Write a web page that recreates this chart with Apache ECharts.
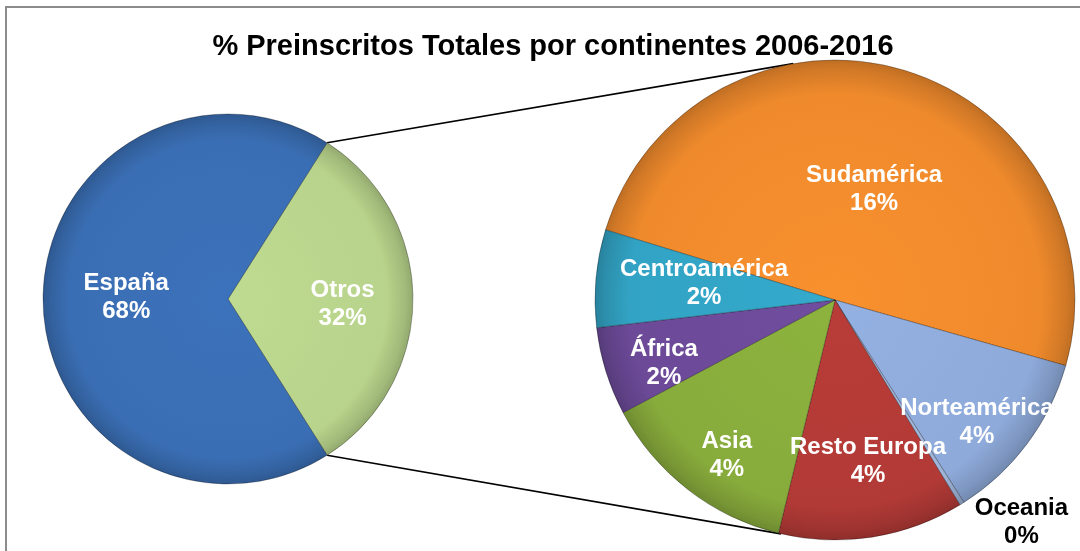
<!DOCTYPE html>
<html>
<head>
<meta charset="utf-8">
<script src="https://cdn.jsdelivr.net/npm/echarts@6/dist/echarts.min.js"></script>
<style>
  html, body { margin: 0; padding: 0; background: #fff; }
  #chart { width: 1080px; height: 551px; }
</style>
</head>
<body>
<div id="chart"></div>
<script>
// Data (percent of all pre-registrations)
const mainNames = ['Otros', 'España'];
const mainValues = [32, 68];
const mainColors = ['#B8D38B', '#3A6EB4'];

const subNames = ['Sudamérica', 'Norteamérica', 'Oceania', 'Resto Europa', 'Asia', 'África', 'Centroamérica'];
const subValues = [15.9, 3.7, 0.1, 4.0, 4.3, 1.9, 2.1];
const subColors = ['#EF8A2C', '#8EAADA', '#9FB4D8', '#B23A36', '#88AC3C', '#6C4A98', '#32A3C4'];
// label placement: fraction of radius and turn (deg) from the slice middle
const subLabelRadius = [0.49, 0.78, 1.21, 0.685, 0.79, 0.76, 0.55];
const subLabelTurn = [-3, -4, 8, 2.7, 3, 3, -2];

const titleText = '% Preinscritos Totales por continentes 2006-2016';

const FONT = "'Liberation Sans', Arial, sans-serif";

// geometry of the two pies
const left = { cx: 228, cy: 299, r: 185 };
const right = { cx: 835, cy: 300, r: 240 };
const subStart = 163;

const mainTotal = mainValues.reduce((a, b) => a + b, 0);
const otrosHalf = mainValues[0] / mainTotal * 180;

function pt(p, deg, k) {
  const a = deg * Math.PI / 180;
  return [p.cx + Math.cos(a) * p.r * k, p.cy - Math.sin(a) * p.r * k];
}

function shade(hex, f) {
  const n = parseInt(hex.slice(1), 16);
  const c = [n >> 16, (n >> 8) & 255, n & 255].map(v => Math.round(Math.min(255, v * f)));
  return 'rgb(' + c.join(',') + ')';
}

// bevel-ish fill like the office chart
function fill(p, hex) {
  return new echarts.graphic.RadialGradient(p.cx, p.cy, p.r, [
    { offset: 0, color: shade(hex, 1.04) },
    { offset: 0.86, color: hex },
    { offset: 0.96, color: shade(hex, 0.88) },
    { offset: 1, color: shade(hex, 0.8) }
  ], true);
}

const subTotal = subValues.reduce((a, b) => a + b, 0);
const subMid = [];
let acc = subStart;
subValues.forEach(v => {
  const span = v / subTotal * 360;
  subMid.push(acc - span / 2);
  acc -= span;
});

const chart = echarts.init(document.getElementById('chart'));

const labelStyle = {
  show: true,
  position: 'inside',
  color: '#fff',
  fontFamily: FONT,
  fontWeight: 'bold',
  fontSize: 24,
  lineHeight: 28,
  formatter: p => p.name + '\n' + Math.round(p.value) + '%'
};

const topA = pt(left, otrosHalf, 1), topB = pt(right, 100, 1);
const botA = pt(left, -otrosHalf, 1), botB = pt(right, -103, 1);

chart.setOption({
  backgroundColor: '#fff',
  title: {
    text: titleText,
    left: 548,
    textAlign: 'center',
    top: 27,
    textStyle: {
      fontFamily: FONT,
      fontWeight: 'bold',
      fontSize: 29,
      color: '#000'
    }
  },
  graphic: [
    {
      type: 'rect',
      shape: { x: 6, y: 7, width: 1100, height: 600 },
      style: { fill: 'none', stroke: '#8C8C8C', lineWidth: 2 },
      z: 0
    },
    {
      type: 'line',
      shape: { x1: topA[0], y1: topA[1], x2: topB[0], y2: topB[1] },
      style: { stroke: '#000', lineWidth: 1.6 },
      z: 0
    },
    {
      type: 'line',
      shape: { x1: botA[0], y1: botA[1], x2: botB[0], y2: botB[1] },
      style: { stroke: '#000', lineWidth: 1.6 },
      z: 0
    }
  ],
  series: [
    {
      type: 'pie',
      center: [left.cx, left.cy],
      radius: left.r,
      startAngle: otrosHalf,
      clockwise: true,
      silent: true,
      avoidLabelOverlap: false,
      data: mainNames.map((n, i) => ({
        name: n,
        value: mainValues[i],
        itemStyle: { color: fill(left, mainColors[i]) }
      })),
      itemStyle: { borderColor: 'rgba(0,0,0,0.15)', borderWidth: 1 },
      label: labelStyle,
      labelLine: { show: false },
      labelLayout: p => {
        const q = p.dataIndex === 0 ? pt(left, -2.5, 0.62) : pt(left, 179, 0.55);
        return { x: q[0], y: q[1], align: 'center', verticalAlign: 'middle' };
      }
    },
    {
      type: 'pie',
      center: [right.cx, right.cy],
      radius: right.r,
      startAngle: subStart,
      clockwise: true,
      silent: true,
      avoidLabelOverlap: false,
      data: subNames.map((n, i) => ({
        name: n,
        value: subValues[i],
        itemStyle: { color: fill(right, subColors[i]) },
        label: n === 'Oceania' ? { color: '#000' } : undefined
      })),
      itemStyle: { borderColor: 'rgba(0,0,0,0.15)', borderWidth: 1 },
      label: labelStyle,
      labelLine: { show: false },
      labelLayout: p => {
        const i = p.dataIndex;
        const q = pt(right, subMid[i] + subLabelTurn[i], subLabelRadius[i]);
        return { x: q[0], y: q[1], align: 'center', verticalAlign: 'middle' };
      }
    }
  ]
});
</script>
</body>
</html>
